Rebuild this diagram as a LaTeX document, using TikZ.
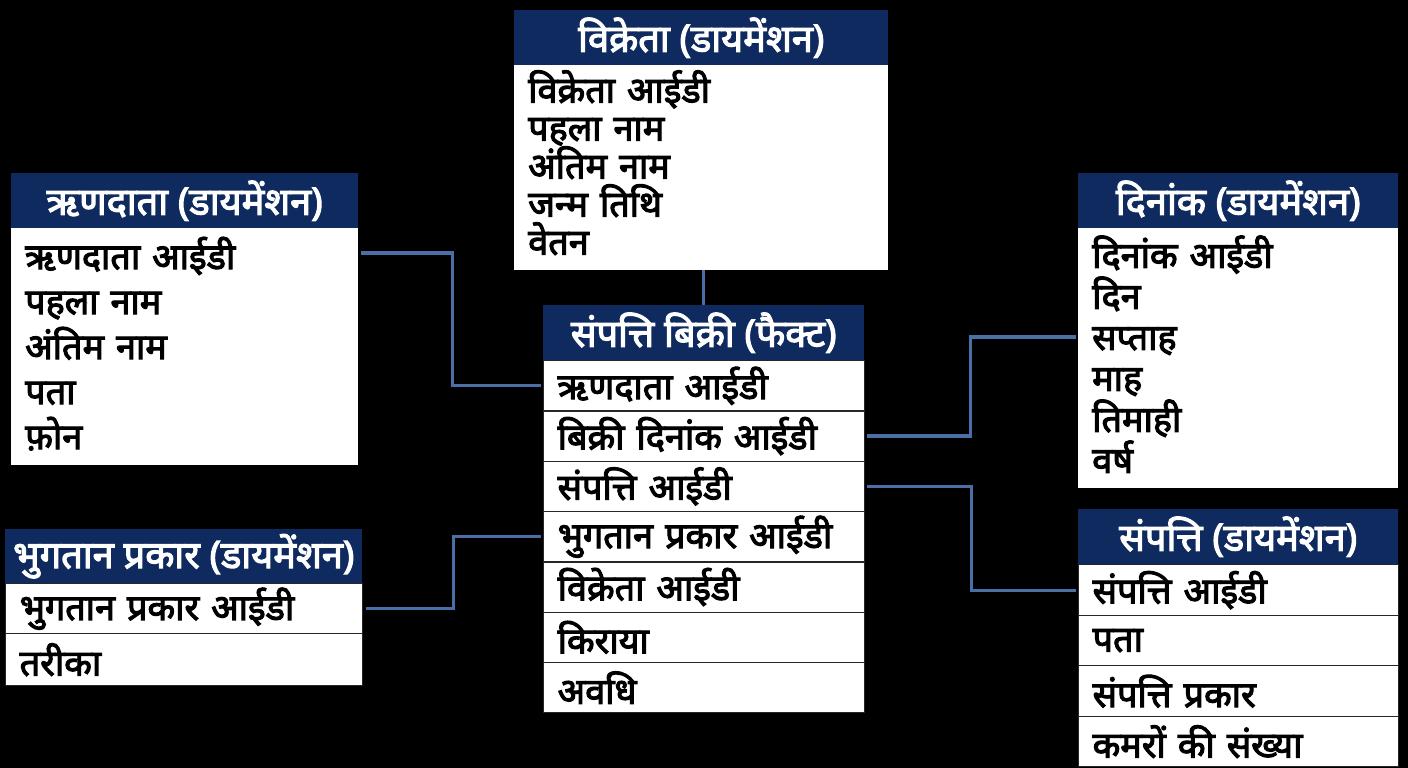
\documentclass[tikz,border=0pt]{standalone}
\usepackage{fontspec}
\setmainfont{Noto Sans}[Script=Devanagari, BoldFont={Noto Sans}, BoldFeatures={FakeBold=3}]
\usetikzlibrary{calc}
\definecolor{navy}{HTML}{0E2A5E}
\definecolor{conncol}{HTML}{4A6EA6}
\tikzset{
  hdr/.style={draw=none, fill=navy, text=white, anchor=north west, inner sep=0pt,
    font=\fontsize{38}{40}\selectfont\bfseries},
  bodybox/.style={draw=none, fill=white, text=black, anchor=north west, inner xsep=14pt,
    inner ysep=0pt, align=left},
  rowbox/.style={draw=black!85, line width=1.3pt, fill=white, text=black, anchor=north west,
    inner xsep=14pt, inner ysep=0pt, align=left, font=\fontsize{36}{38}\selectfont\bfseries},
  conn/.style={draw=conncol, line width=3.3pt},
}
\begin{document}
\begin{tikzpicture}[x=1pt,y=-1pt]
\fill[black] (0,0) rectangle (1408,768);
\useasboundingbox (0,0) rectangle (1408,768);

% Vikreta dimension
\node[hdr, minimum width=374pt, minimum height=55pt] (vh) at (514,10) {विक्रेता (डायमेंशन)};
\node[bodybox, text width=346pt, minimum height=205pt, font=\fontsize{36}{38}\selectfont\bfseries] (vb) at (514,65)
  {विक्रेता आईडी\\पहला नाम\\अंतिम नाम\\जन्म तिथि\\वेतन\vspace*{10pt}};

% Rindata dimension
\node[hdr, minimum width=347pt, minimum height=55pt] (rh) at (11,173) {ऋणदाता (डायमेंशन)};
\node[bodybox, text width=319pt, minimum height=237pt, font=\fontsize{36}{45}\selectfont\bfseries] (rb) at (11,228)
  {ऋणदाता आईडी\\पहला नाम\\अंतिम नाम\\पता\\फ़ोन\vspace*{6pt}};

% Bhugtan prakar dimension
\node[hdr, minimum width=357pt, minimum height=54pt] (bh) at (5,529) {भुगतान प्रकार (डायमेंशन)};
\node[rowbox, text width=329pt, minimum height=50pt] (b1) at (5,583) {भुगतान प्रकार आईडी};
\node[rowbox, text width=329pt, minimum height=52pt] (b2) at (5,633) {तरीका};

% Fact table
\node[hdr, minimum width=321pt, minimum height=55pt] (fh) at (543,305) {संपत्ति बिक्री (फैक्ट)};
\node[rowbox, text width=293pt, minimum height=50.3pt] (f1) at (543,360) {ऋणदाता आईडी};
\node[rowbox, text width=293pt, minimum height=50.3pt] (f2) at (543,410.3) {बिक्री दिनांक आईडी};
\node[rowbox, text width=293pt, minimum height=50.3pt] (f3) at (543,460.6) {संपत्ति आईडी};
\node[rowbox, text width=293pt, minimum height=50.3pt] (f4) at (543,510.9) {भुगतान प्रकार आईडी};
\node[rowbox, text width=293pt, minimum height=50.3pt] (f5) at (543,561.2) {विक्रेता आईडी};
\node[rowbox, text width=293pt, minimum height=50.3pt] (f6) at (543,611.5) {किराया};
\node[rowbox, text width=293pt, minimum height=50.3pt] (f7) at (543,661.8) {अवधि};

% Dinank dimension
\node[hdr, minimum width=320pt, minimum height=55pt] (dh) at (1078,173) {दिनांक (डायमेंशन)};
\node[bodybox, text width=292pt, minimum height=260pt, font=\fontsize{36}{41}\selectfont\bfseries] (db) at (1078,228)
  {दिनांक आईडी\\दिन\\सप्ताह\\माह\\तिमाही\\वर्ष\vspace*{8pt}};

% Sampatti dimension
\node[hdr, minimum width=320pt, minimum height=55pt] (sh) at (1078,509) {संपत्ति (डायमेंशन)};
\node[rowbox, text width=292pt, minimum height=51pt] (s1) at (1078,564) {संपत्ति आईडी};
\node[rowbox, text width=292pt, minimum height=50pt] (s2) at (1078,615) {पता};
\node[rowbox, text width=292pt, minimum height=51pt] (s3) at (1078,665) {संपत्ति प्रकार};
\node[rowbox, text width=292pt, minimum height=50pt] (s4) at (1078,716) {कमरों की संख्या};

% connectors
\coordinate (rs) at ($(rb.north east)+(3,25)$);
\coordinate (ds) at ($(db.north west)+(-2,109)$);
\draw[conn] (vb.south -| fh.north) -- (fh.north);
\draw[conn] (rs) -| ($(rs)!0.5!(f1.west)$) |- ([xshift=-2pt]f1.west);
\draw[conn] ([xshift=3pt]b1.east) -| ($(b1.east)!0.5!(f4.west)$) |- ([xshift=-2pt]f4.west);
\draw[conn] ([xshift=2pt]f2.east) -| ($(f2.east)!0.5!(ds)$) |- (ds);
\draw[conn] ([xshift=2pt]f3.east) -| ($(f3.east)!0.5!(s1.west)$) |- ([xshift=-2pt]s1.west);
\end{tikzpicture}
\end{document}
